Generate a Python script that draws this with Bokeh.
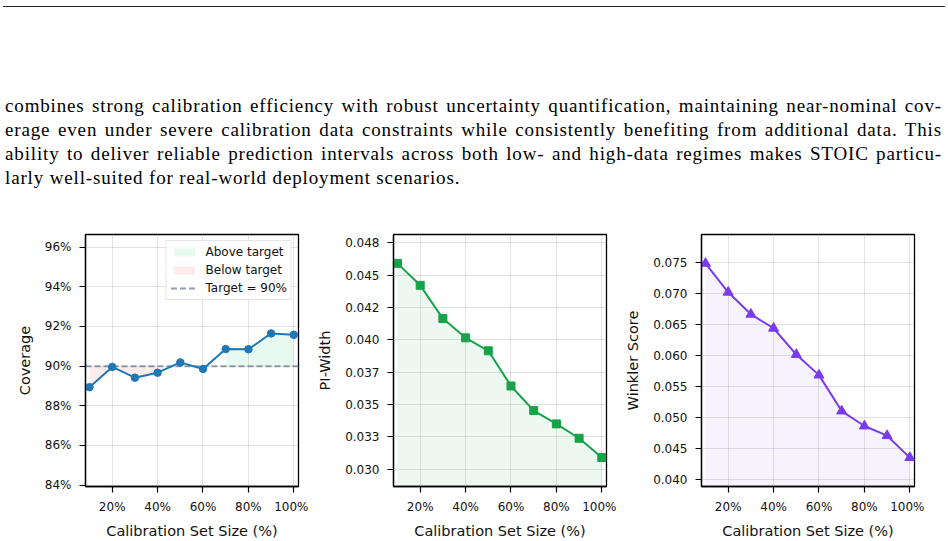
from bokeh.plotting import figure
from bokeh.layouts import column, row
from bokeh.models import Div, FixedTicker, CustomJSTickFormatter, Range1d
from bokeh.embed import file_html
from bokeh.resources import INLINE

# ---------------- data ----------------
calib_pct = [10, 20, 30, 40, 50, 60, 70, 80, 90, 100]
coverage = [88.94, 89.96, 89.42, 89.67, 90.19, 89.86, 90.86, 90.85, 91.65, 91.58]
target = 90.0
pi_width = [0.04591, 0.04421, 0.04164, 0.04015, 0.03915, 0.03643, 0.03453, 0.03350, 0.03239, 0.03090]
winkler = [0.07489, 0.07022, 0.06667, 0.06441, 0.06016, 0.05683, 0.05102, 0.04860, 0.04704, 0.04349]

x_ticks = [20, 40, 60, 80, 100]
x_tick_labels = ["20%", "40%", "60%", "80%", "100%"]
cov_ticks = [84, 86, 88, 90, 92, 94, 96]
cov_tick_labels = ["84%", "86%", "88%", "90%", "92%", "94%", "96%"]
pi_ticks = [0.0300, 0.0325, 0.0350, 0.0375, 0.0400, 0.0425, 0.0450, 0.0475]
pi_tick_labels = ["0.030", "0.033", "0.035", "0.037", "0.040", "0.042", "0.045", "0.048"]
wk_ticks = [0.040, 0.045, 0.050, 0.055, 0.060, 0.065, 0.070, 0.075]
wk_tick_labels = ["0.040", "0.045", "0.050", "0.055", "0.060", "0.065", "0.070", "0.075"]

paragraph_lines = [
    "combines strong calibration efficiency with robust uncertainty quantification, maintaining near-nominal cov-",
    "erage even under severe calibration data constraints while consistently benefiting from additional data.  This",
    "ability to deliver reliable prediction intervals across both low- and high-data regimes makes STOIC particu-",
    "larly well-suited for real-world deployment scenarios.",
]

X_RANGE = (8.24, 102.07)
COV_RANGE = (83.93, 96.64)
PI_RANGE = (0.02866, 0.04814)
WK_RANGE = (0.03882, 0.07957)

FONT = "DejaVu Sans"


def label_formatter(ticks, labels):
    return CustomJSTickFormatter(args=dict(tk=ticks, lb=labels), code="""
        let best = 0; let d = Infinity;
        for (let i = 0; i < tk.length; i++) {
            const e = Math.abs(tk[i] - tick);
            if (e < d) { d = e; best = i; }
        }
        return lb[best];
    """)


def make_fig(ylabel, yr, yticks, ylabels):
    p = figure(width=308, height=321, output_backend="svg", toolbar_location=None,
               x_range=Range1d(*X_RANGE), y_range=Range1d(*yr),
               min_border_left=85, min_border_right=10, min_border_top=14, min_border_bottom=54)
    p.background_fill_color = "white"
    p.border_fill_color = "white"
    p.outline_line_color = "black"
    p.outline_line_width = 1.3
    p.outline_line_alpha = 1.0

    p.xaxis.ticker = FixedTicker(ticks=x_ticks)
    p.xaxis.formatter = label_formatter(x_ticks, x_tick_labels)
    p.yaxis.ticker = FixedTicker(ticks=yticks)
    p.yaxis.formatter = label_formatter(yticks, ylabels)

    for ax in (p.xaxis[0], p.yaxis[0]):
        ax.axis_line_color = "black"
        ax.axis_line_width = 1.3
        ax.major_tick_line_color = "black"
        ax.major_tick_line_width = 1.2
        ax.major_tick_out = 6
        ax.major_tick_in = 0
        ax.minor_tick_line_color = None
        ax.major_label_text_font = FONT
        ax.major_label_text_font_size = "12px"
        ax.major_label_text_color = "#111111"
        ax.axis_label_text_font = FONT
        ax.axis_label_text_font_size = "14.5px"
        ax.axis_label_text_font_style = "normal"
        ax.axis_label_text_color = "#111111"
    p.xaxis.major_label_standoff = 7
    p.xaxis.axis_label_standoff = 6
    p.yaxis.major_label_standoff = 8
    p.yaxis.axis_label_standoff = 9
    p.xaxis.axis_label = "Calibration Set Size (%)"
    p.yaxis.axis_label = ylabel

    p.grid.grid_line_color = "#b0b0b0"
    p.grid.grid_line_alpha = 0.35
    p.grid.grid_line_width = 1
    return p


# ---------------- panel 1: coverage ----------------
p1 = make_fig("Coverage", COV_RANGE, cov_ticks, cov_tick_labels)

runs = []
cur = [0]
for i in range(1, len(calib_pct)):
    if (coverage[i] >= target) == (coverage[cur[-1]] >= target):
        cur.append(i)
    else:
        runs.append(cur)
        cur = [i]
runs.append(cur)

for r in runs:
    if len(r) < 2:
        continue
    xs = [calib_pct[i] for i in r]
    ys = [coverage[i] for i in r]
    if coverage[r[0]] >= target:
        p1.varea(x=xs, y1=ys, y2=[target] * len(xs), fill_color="#22c55e", fill_alpha=0.1,
                 legend_label="Above target")
for r in runs:
    if len(r) < 2:
        continue
    xs = [calib_pct[i] for i in r]
    ys = [coverage[i] for i in r]
    if coverage[r[0]] < target:
        p1.varea(x=xs, y1=ys, y2=[target] * len(xs), fill_color="#ef4444", fill_alpha=0.1,
                 legend_label="Below target")

p1.line(x=list(X_RANGE), y=[target, target], line_color="#64748b", line_alpha=0.7,
        line_width=2, line_dash="6 3", legend_label="Target = 90%")
p1.line(x=calib_pct, y=coverage, line_color="#1f77b4", line_width=2)
p1.scatter(x=calib_pct, y=coverage, marker="circle", size=7.5, fill_color="#1f77b4",
           line_color="#1f77b4")

lg = p1.legend[0]
lg.location = "top_right"
lg.margin = 6
lg.padding = 4
lg.spacing = 4
lg.label_height = 14
lg.glyph_height = 10
lg.glyph_width = 27
lg.label_standoff = 8
lg.label_text_font = FONT
lg.label_text_font_size = "12px"
lg.label_text_color = "#111111"
lg.border_line_color = "#cccccc"
lg.border_line_width = 1
lg.background_fill_color = "white"
lg.background_fill_alpha = 0.85

# ---------------- panel 2: PI width ----------------
p2 = make_fig("PI-Width", PI_RANGE, pi_ticks, pi_tick_labels)
p2.varea(x=calib_pct, y1=pi_width, y2=[PI_RANGE[0]] * len(calib_pct),
         fill_color="#16a34a", fill_alpha=0.08)
p2.line(x=calib_pct, y=pi_width, line_color="#16a34a", line_width=2)
p2.scatter(x=calib_pct, y=pi_width, marker="square", size=8, fill_color="#16a34a",
           line_color="#16a34a")

# ---------------- panel 3: Winkler ----------------
p3 = make_fig("Winkler Score", WK_RANGE, wk_ticks, wk_tick_labels)
p3.varea(x=calib_pct, y1=winkler, y2=[WK_RANGE[0]] * len(calib_pct),
         fill_color="#7c3aed", fill_alpha=0.06)
p3.line(x=calib_pct, y=winkler, line_color="#7c3aed", line_width=2)
p3.scatter(x=calib_pct, y=winkler, marker="triangle", size=10, fill_color="#7c3aed",
           line_color="#7c3aed")

# ---------------- text block ----------------
line_html = []
for i, t in enumerate(paragraph_lines):
    last = i == len(paragraph_lines) - 1
    style = "text-align:left;" if last else "text-align:justify;text-align-last:justify;"
    line_html.append(f'<div style="{style}white-space:nowrap;">{t}</div>')

html = (
    '<div style="position:relative;width:948px;height:220px;background:white;">'
    '<div style="position:absolute;left:3px;top:6px;width:942px;height:0;'
    'border-top:1.5px solid #222;"></div>'
    '<div style="position:absolute;left:5px;top:94px;width:937px;'
    "font-family:'Liberation Serif',serif;font-size:19px;letter-spacing:0.85px;"
    'line-height:24px;color:#000;">'
    + "".join(line_html) +
    '</div></div>'
)
div = Div(text=html, width=948, height=220, margin=0)

layout = column(div, row(p1, p2, p3))

open("out.html", "w").write(file_html(layout, INLINE))
